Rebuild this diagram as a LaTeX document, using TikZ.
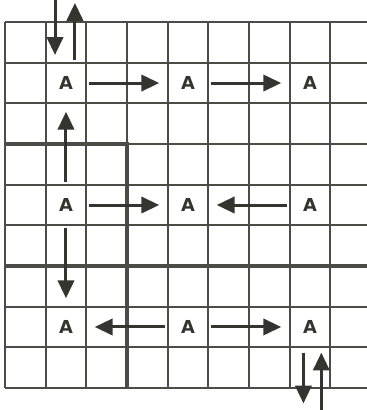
\documentclass[tikz,border=0pt]{standalone}
\usepackage{fontspec}
\setsansfont{DejaVu Sans}
\usetikzlibrary{arrows.meta}
\definecolor{ink}{HTML}{35352F}
\definecolor{gridgray}{HTML}{4C4C46}
\begin{document}
\begin{tikzpicture}[x=1cm, y=1cm,
  cell/.style={minimum size=1.1cm, inner sep=0pt, font=\fontsize{12.5}{14}\selectfont\sffamily\bfseries, text=ink},
  move/.style={-{Triangle[width=0.4cm,length=0.44cm]}, line width=2.1pt, draw=ink, shorten >=0.15cm}]
\useasboundingbox[fill=white] (-0.123,-0.542) rectangle (8.892,9.542);
% squares of the grid
\draw[gridgray, line width=1.3pt] (0,0) grid (8.892,9);
\draw[gridgray, line width=2.6pt] (0,6) -- (3,6) -- (3,0);
\draw[gridgray, line width=2.6pt] (0,3) -- (8.892,3);
% the nine A cells
\foreach \i in {1,2,3} {
  \foreach \j in {1,2,3} {
    \node[cell] (a\i\j) at ({3*\j-1.5},{10.5-3*\i}) {A};
  }
}
% moves between cells
\draw[move] (a11) -- (a12);
\draw[move] (a12) -- (a13);
\draw[move] (a21) -- (a11);
\draw[move] (a21) -- (a22);
\draw[move] (a23) -- (a22);
\draw[move] (a21) -- (a31);
\draw[move] (a32) -- (a31);
\draw[move] (a32) -- (a33);
% in and out at the edges
\coordinate (topin) at (1.23,9.542);
\coordinate (topinend) at (1.23,8.19);
\coordinate (topout) at (1.72,8.06);
\coordinate (topoutend) at (1.72,9.47);
\coordinate (botin) at (7.34,0.87);
\coordinate (botinend) at (7.34,-0.38);
\coordinate (botout) at (7.78,-0.542);
\coordinate (botoutend) at (7.78,0.87);
\draw[move, shorten >=0pt] (topin) -- (topinend);
\draw[move, shorten >=0pt] (topout) -- (topoutend);
\draw[move, shorten >=0pt] (botin) -- (botinend);
\draw[move, shorten >=0pt] (botout) -- (botoutend);
\end{tikzpicture}
\end{document}
